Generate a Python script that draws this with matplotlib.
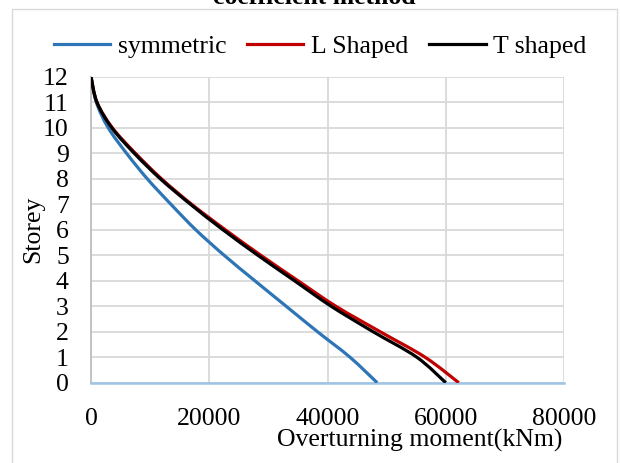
import matplotlib
matplotlib.use("Agg")
import matplotlib.pyplot as plt
from matplotlib.patches import Rectangle, PathPatch
from matplotlib.path import Path
from matplotlib.lines import Line2D

plt.rcParams['font.family'] = ['Liberation Serif', 'DejaVu Serif']

storey = [0, 1, 2, 3, 4, 5, 6, 7, 8, 9, 10, 11, 12]
symmetric = [48400, 43800, 38300, 33000, 27700, 22500, 17700, 13500, 9500, 6000, 2900, 900, 0]
l_shaped = [62200, 56500, 48900, 41400, 35000, 28700, 22700, 17000, 11900, 7500, 3600, 1000, 0]
t_shaped = [60000, 55100, 47700, 40600, 34400, 28200, 22300, 16800, 11700, 7300, 3500, 1000, 0]
series_names = ["symmetric", "L Shaped", "T shaped"]
colors = ["#2E75B6", "#C00000", "#000000"]
x_ticks = [0, 20000, 40000, 60000, 80000]
y_ticks = list(range(0, 13))

FS = 18.5
W, H = 621, 463
fig = plt.figure(figsize=(W / 100, H / 100), dpi=100)

# chart border
fig.patches.append(Rectangle((12 / W, -0.05), (617 - 12) / W, 1.05 - 9 / H,
                             transform=fig.transFigure, fill=False,
                             edgecolor="#D9D9D9", linewidth=1.0))

ax = fig.add_axes([91 / W, 1 - 382.7 / H, (564 - 91) / W, (382.7 - 76.7) / H])


def smooth_path(xs, ys):
    """Excel-like smoothed line: cubic Bezier segments through the data points."""
    pts = list(zip(xs, ys))
    n = len(pts)
    verts = [pts[0]]
    codes = [Path.MOVETO]
    for i in range(n - 1):
        p0 = pts[i - 1] if i > 0 else pts[i]
        p1 = pts[i]
        p2 = pts[i + 1]
        p3 = pts[i + 2] if i + 2 < n else pts[i + 1]
        c1 = (p1[0] + (p2[0] - p0[0]) / 6.0, p1[1] + (p2[1] - p0[1]) / 6.0)
        c2 = (p2[0] - (p3[0] - p1[0]) / 6.0, p2[1] - (p3[1] - p1[1]) / 6.0)
        verts += [c1, c2, p2]
        codes += [Path.CURVE4, Path.CURVE4, Path.CURVE4]
    return Path(verts, codes)


handles = []
for vals, name, c in zip([symmetric, l_shaped, t_shaped], series_names, colors):
    patch = PathPatch(smooth_path(vals, storey), facecolor="none", edgecolor=c,
                      linewidth=2.3, capstyle="butt", joinstyle="round", zorder=3)
    ax.add_patch(patch)
    handles.append(Line2D([], [], color=c, linewidth=2.3, label=name))

ax.set_xlim(0, 80000)
ax.set_ylim(0, 12)
ax.set_xticks(x_ticks)
ax.set_yticks(y_ticks)
ax.set_xticklabels([str(v) for v in x_ticks])
ax.grid(True, color="#D9D9D9", linewidth=1.3)
ax.set_axisbelow(True)
for s in ["top", "right"]:
    ax.spines[s].set_visible(False)
ax.spines["left"].set_color("#BFBFBF")
ax.spines["left"].set_linewidth(1.3)
ax.spines["bottom"].set_color("#9DC3E6")
ax.spines["bottom"].set_linewidth(1.8)
ax.tick_params(axis="both", length=0, labelsize=FS, colors="black")
ax.tick_params(axis="x", pad=18)
ax.tick_params(axis="y", pad=16)

fig.text(33 / W, 1 - 229 / H, "Storey", rotation=90, ha="center", va="center", fontsize=FS)
fig.text(420 / W, 1 - 440 / H, "Overturning moment(kNm)", ha="center", va="center", fontsize=FS)

# title (cut off at top in the reference)
fig.text(314 / W, 1 - 4 / H, "coefficient method", ha="center", va="baseline",
         fontsize=FS, fontweight="bold")

fig.legend(handles=handles, loc="center", bbox_to_anchor=(320 / W, 1 - 47 / H),
           ncol=3, frameon=False, fontsize=FS, handlelength=2.2, handletextpad=0.3,
           columnspacing=0.8)

fig.savefig("out.png", dpi=100)
